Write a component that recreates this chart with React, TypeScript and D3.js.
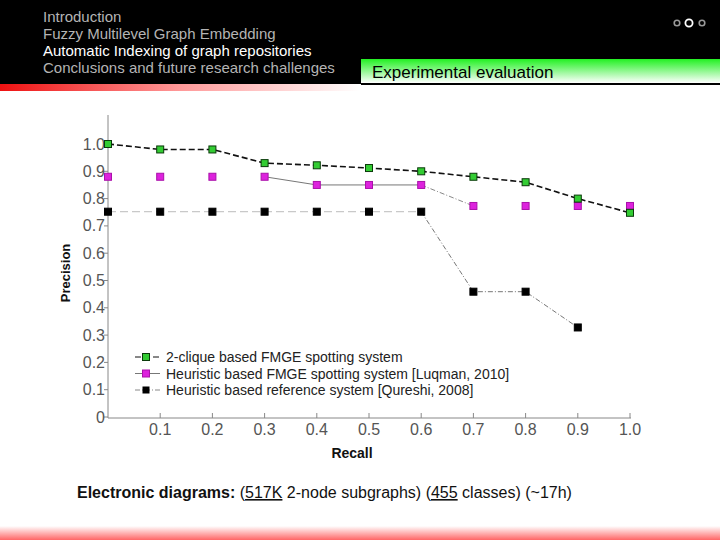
import React from "react";
import * as d3 from "d3";

const recall = [0, 0.1, 0.2, 0.3, 0.4, 0.5, 0.6, 0.7, 0.8, 0.9, 1.0];
const cliqueFMGE = [1.0, 0.98, 0.98, 0.93, 0.922, 0.912, 0.9, 0.88, 0.86, 0.8, 0.748];
const heuristicFMGE = [0.88, 0.88, 0.88, 0.88, 0.85, 0.85, 0.85, 0.773, 0.773, 0.773, 0.773];
const referenceSys = [0.752, 0.752, 0.752, 0.752, 0.752, 0.752, 0.752, 0.459, 0.459, 0.328];
const xTicks = [0.1, 0.2, 0.3, 0.4, 0.5, 0.6, 0.7, 0.8, 0.9, 1.0];
const yTicks = [0, 0.1, 0.2, 0.3, 0.4, 0.5, 0.6, 0.7, 0.8, 0.9, 1.0];
const legendLabels = [
  "2-clique based FMGE spotting system",
  "Heuristic based FMGE spotting system [Luqman, 2010]",
  "Heuristic based reference system [Qureshi, 2008]",
];
const menuItems = [
  "Introduction",
  "Fuzzy Multilevel Graph Embedding",
  "Automatic Indexing of graph repositories",
  "Conclusions and future research challenges",
];
const activeMenu = 2;

const FONT = "'Liberation Sans', Arial, sans-serif";

export default function App() {
  const x = d3.scaleLinear().domain([0, 1]).range([108, 630]);
  const y = d3.scaleLinear().domain([0, 1]).range([417, 144]);
  const line = d3
    .line<[number, number]>()
    .x((d) => x(d[0]))
    .y((d) => y(d[1]));

  const g = recall.map((r, i) => [r, cliqueFMGE[i]] as [number, number]);
  const m = recall.map((r, i) => [r, heuristicFMGE[i]] as [number, number]);
  const k = referenceSys.map((v, i) => [recall[i], v] as [number, number]);

  const sq = (cx: number, cy: number, s: number, fill: string, stroke: string, key: string) => (
    <rect key={key} x={cx - s / 2} y={cy - s / 2} width={s} height={s} fill={fill} stroke={stroke} strokeWidth={1} />
  );

  return (
    <svg width={720} height={540} style={{ position: "absolute", left: 0, top: 0 }} fontFamily={FONT}>
      <defs>
        <linearGradient id="redline" x1="0" x2="1" y1="0" y2="0">
          <stop offset="0" stopColor="#ee1111" />
          <stop offset="0.5" stopColor="#ff9999" />
          <stop offset="1" stopColor="#ffffff" />
        </linearGradient>
        <linearGradient id="greenbox" x1="0" x2="0" y1="0" y2="1">
          <stop offset="0" stopColor="#22f022" />
          <stop offset="1" stopColor="#ffffff" />
        </linearGradient>
        <linearGradient id="bottom" x1="0" x2="0" y1="0" y2="1">
          <stop offset="0" stopColor="#ffffff" />
          <stop offset="1" stopColor="#ff6666" />
        </linearGradient>
      </defs>
      <rect x={0} y={0} width={720} height={540} fill="#fff" />
      {/* header */}
      <rect x={0} y={0} width={720} height={84} fill="#000" />
      <rect x={0} y={84} width={360} height={7} fill="url(#redline)" />
      <rect x={361} y={59} width={359} height={24} fill="url(#greenbox)" />
      <rect x={361} y={83} width={359} height={2} fill="#000" />
      <text x={372} y={78} fontSize={17} fill="#000">Experimental evaluation</text>
      {menuItems.map((t, i) => (
        <text key={t} x={43} y={22 + i * 17} fontSize={15} fill={i === activeMenu ? "#fff" : "#b4b4b4"}>
          {t}
        </text>
      ))}
      <circle cx={677} cy={23} r={2.8} fill="none" stroke="#999" strokeWidth={1.6} />
      <circle cx={689} cy={23} r={3.6} fill="none" stroke="#fff" strokeWidth={1.8} />
      <circle cx={702} cy={23} r={2.8} fill="none" stroke="#999" strokeWidth={1.6} />

      {/* axes */}
      <line x1={108} x2={108} y1={115} y2={418} stroke="#888" />
      <line x1={108} x2={631} y1={418} y2={418} stroke="#888" />
      {xTicks.map((t) => (
        <g key={"x" + t}>
          <line x1={x(t)} x2={x(t)} y1={418} y2={413} stroke="#888" />
          <text x={x(t)} y={435} fontSize={16} fill="#555" textAnchor="middle">
            {t.toFixed(1)}
          </text>
        </g>
      ))}
      {yTicks.map((t) => (
        <g key={"y" + t}>
          <line x1={104} x2={108} y1={y(t)} y2={y(t)} stroke="#888" />
          <text x={105} y={y(t) + 5.5} fontSize={16} fill="#555" textAnchor="end">
            {t === 0 ? "0" : t.toFixed(1)}
          </text>
        </g>
      ))}
      <text x={352} y={458} fontSize={14} fontWeight="bold" fill="#111" textAnchor="middle">Recall</text>
      <text
        transform={`translate(70,273) rotate(-90)`}
        fontSize={13}
        fontWeight="bold"
        fill="#111"
        textAnchor="middle"
      >
        Precision
      </text>

      {/* lines */}
      <path d={line(k.slice(0, 7)) || ""} fill="none" stroke="#bbb" strokeWidth={1} strokeDasharray="8,4" />
      <path d={line(k.slice(6)) || ""} fill="none" stroke="#777" strokeWidth={1} strokeDasharray="5,2,1,2" />
      <path d={line(m.slice(3, 7)) || ""} fill="none" stroke="#777" strokeWidth={1} />
      <path d={line(m.slice(6, 8)) || ""} fill="none" stroke="#888" strokeWidth={1} strokeDasharray="5,2,1,2" />
      <path d={line(g) || ""} fill="none" stroke="#111" strokeWidth={1.6} strokeDasharray="6,3" />

      {/* markers */}
      {k.map((d, i) => sq(x(d[0]), y(d[1]), 7, "#000", "#000", "k" + i))}
      {m.map((d, i) => sq(x(d[0]), y(d[1]), 7, "#dd22dd", "#aa10aa", "m" + i))}
      {g.map((d, i) => sq(x(d[0]), y(d[1]), 7, "#33cc33", "#0a3a0a", "g" + i))}

      {/* legend */}
      {legendLabels.map((t, i) => {
        const ly = 357 + i * 16.5;
        return (
          <g key={t}>
            <line
              x1={135}
              x2={160}
              y1={ly}
              y2={ly}
              stroke={i === 0 ? "#111" : i === 1 ? "#777" : "#888"}
              strokeDasharray={i === 0 ? "6,3" : i === 1 ? "none" : "5,2,1,2"}
            />
            {i === 0 && sq(146, ly, 7, "#33cc33", "#0a3a0a", "lg")}
            {i === 1 && sq(146, ly, 7, "#dd22dd", "#aa10aa", "lm")}
            {i === 2 && sq(146, ly, 6, "#000", "#000", "lk")}
            <text x={166} y={ly + 5} fontSize={14} fill="#222">{t}</text>
          </g>
        );
      })}

      {/* footer text */}
      <text x={77} y={498} fontSize={16} fill="#111">
        <tspan fontWeight="bold">Electronic diagrams: </tspan>
        <tspan>(</tspan>
        <tspan textDecoration="underline">517K</tspan>
        <tspan> 2-node subgraphs) (</tspan>
        <tspan textDecoration="underline">455</tspan>
        <tspan> classes) (~17h)</tspan>
      </text>
      <rect x={0} y={526} width={720} height={14} fill="url(#bottom)" />
    </svg>
  );
}
